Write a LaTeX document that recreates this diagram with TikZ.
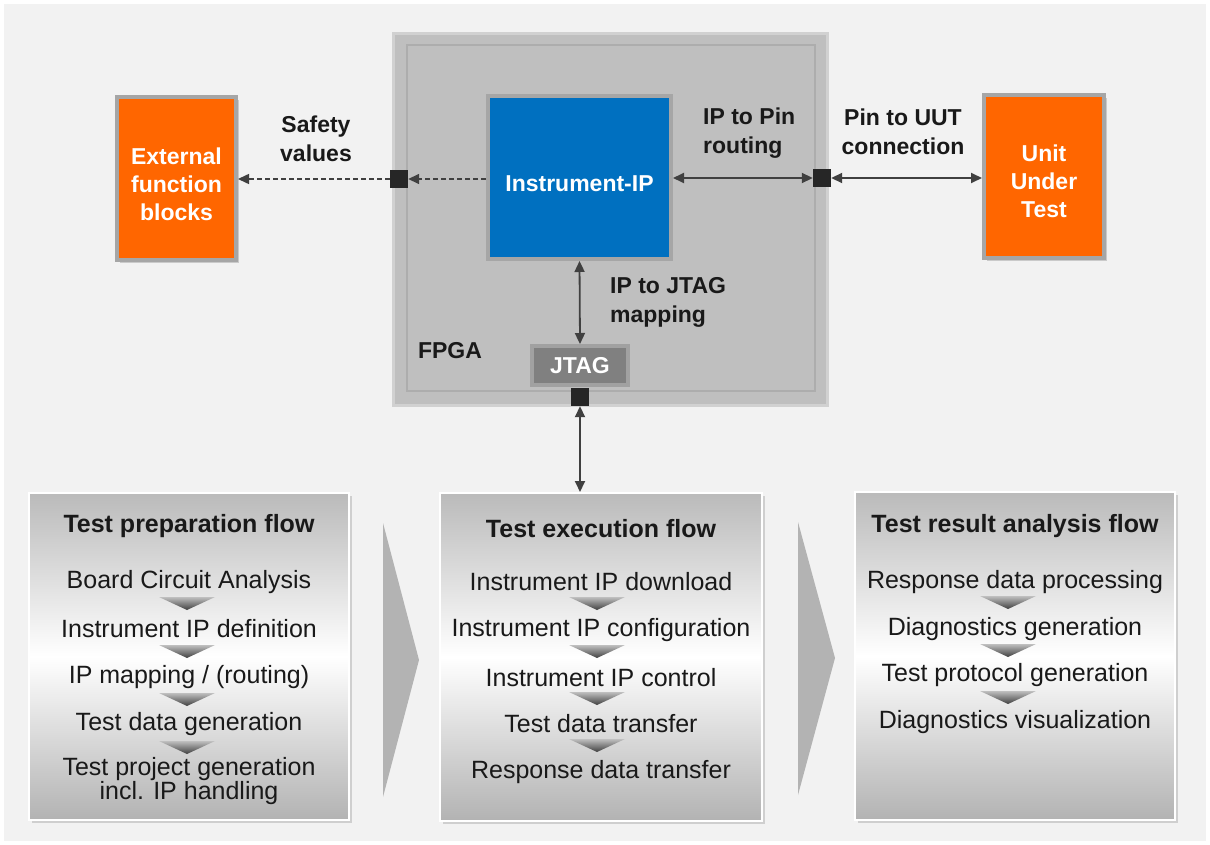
\documentclass[tikz,border=0pt]{standalone}
\usepackage{fontspec}
\setmainfont{Liberation Sans}
\usetikzlibrary{arrows.meta, positioning, shadows}

\definecolor{bggray}{RGB}{242,242,242}
\definecolor{fpgagray}{RGB}{191,191,191}
\definecolor{framegray}{RGB}{166,166,166}
\definecolor{ipblue}{RGB}{0,112,192}
\definecolor{uutorange}{RGB}{255,102,0}
\definecolor{arrowgray}{RGB}{64,64,64}
\definecolor{portblack}{RGB}{38,38,38}
\definecolor{jtaggray}{RGB}{128,128,128}
\definecolor{chevgray}{RGB}{179,179,179}

\tikzset{
  blockbox/.style={draw=framegray, line width=4pt, fill=uutorange,
    drop shadow={shadow xshift=3pt, shadow yshift=-3pt, opacity=0.35}},
  blocktext/.style={inner sep=0pt, text=white, align=center, font=\bfseries\fontsize{23}{28}\selectfont},
  lbl/.style={inner sep=0pt, text=black!90, font=\bfseries\fontsize{23}{29}\selectfont},
  port/.style={fill=portblack, minimum size=18pt, inner sep=0pt},
  link/.style={arrowgray, line width=1.8pt,
    {Triangle[length=11pt,width=10pt]}-{Triangle[length=11pt,width=10pt]}},
  dlink/.style={arrowgray, line width=1.5pt, dash pattern=on 5pt off 3pt,
    -{Triangle[length=11pt,width=10pt]}},
  flowbox/.style={draw=white, line width=2pt, top color=black!27, bottom color=black!30,
    middle color=white, minimum width=320pt, minimum height=327pt,
    drop shadow={shadow xshift=3pt, shadow yshift=-3pt, opacity=0.3}},
  flowtitle/.style={inner sep=0pt, text=black!90, font=\bfseries\fontsize{25}{28}\selectfont},
  flowitem/.style={inner sep=0pt, align=center, text=black!90, font=\fontsize{25}{24}\selectfont},
  chev/.pic={\shade[top color=black!25, bottom color=black!75] (-28,-7) -- (28,-7) -- (0,6) -- cycle;}
}

\begin{document}
\begin{tikzpicture}[x=1pt, y=-1pt]
  % Canvas
  \useasboundingbox (0,0) rectangle (1210,845);
  \fill[white] (0,0) rectangle (1210,845);
  \fill[bggray] (4,4) rectangle (1206,841);

  % FPGA with its inner frame
  \node[fill=fpgagray, draw=black!18, line width=3pt, minimum width=434pt, minimum height=372pt] (fpga) at (610.5,219.5) {};
  \draw[black!32, line width=1.2pt] (407,45) rectangle (815,391);
  \node[lbl] (fpgalbl) at (450,351) {FPGA};

  % Instrument and JTAG
  \node[draw=framegray, line width=4pt, fill=ipblue, text=white, minimum width=183pt, minimum height=163pt,
        text height=28.5pt, text depth=0pt, font=\bfseries\fontsize{23}{29}\selectfont] (instip) at (579.5,177.5) {Instrument-IP};
  \node[draw=black!37, line width=4pt, fill=jtaggray, text=white, minimum width=96pt, minimum height=39pt,
        inner sep=0pt, font=\bfseries\fontsize{23}{29}\selectfont] (jtag) at (580,365.5) {JTAG};

  % Outer blocks
  \node[blockbox, minimum width=119pt, minimum height=163pt] (extblk) at (176.5,178.5) {};
  \node[blocktext] (extlbl) at (176.5,184) {External\\function\\blocks};
  \node[blockbox, minimum width=120pt, minimum height=163pt] (uut) at (1044,176.5) {};
  \node[blocktext] (uutlbl) at (1044,181) {Unit\\Under\\Test};

  % Pins
  \node[port] (portl) at (399,179) {};
  \node[port] (portr) at (822,178) {};
  \node[port] (portj) at (580,397) {};

  % Connection labels
  \node[lbl, align=center] (safety) at (316,139) {Safety\\values};
  \node[lbl, align=left, anchor=west] (pinrout) at (703,133) {IP to Pin\\routing};
  \node[lbl, align=left, anchor=west] (jtagmap) at (610,302) {IP to JTAG\\mapping};
  \node[lbl, align=center] (uutconn) at (903,132) {Pin to UUT\\connection};

  % Flow boxes
  \node[flowbox] (prepflow) at (189,656.5) {};
  \node[flowbox, minimum width=322pt, minimum height=328pt] (execflow) at (601,657) {};
  \node[flowbox, minimum height=328pt] (resflow) at (1015,656) {};

  % Big chevrons between the flows
  \fill[chevgray] (383,523) -- (419,660) -- (383,797) -- cycle;
  \fill[chevgray] (798,522) -- (835,658) -- (798,795) -- cycle;

  % Connections
  \draw[dlink] (instip.west |- portl) -- (portl.east);
  \draw[dlink] (portl.west) -- (extblk.east |- portl);
  \draw[link] (instip.east |- portr) -- (portr.west);
  \draw[link] (portr.east) -- (uut.west |- portr);
  \draw[link] (instip.south) -- (jtag.north);
  \draw[link] (portj.south) -- (portj.south |- execflow.north);

  % Test preparation flow
  \node[flowtitle] (preptitle) at (189,526) {Test preparation flow};
  \node[flowitem] (prep1) at (189,582) {Board Circuit Analysis};
  \node[flowitem] (prep2) at (189,629) {Instrument IP definition};
  \node[flowitem] (prep3) at (189,677) {IP mapping / (routing)};
  \node[flowitem] (prep4) at (189,724) {Test data generation};
  \node[flowitem] (prep5) at (189,781) {Test project generation\\incl. IP handling};
  \pic at (187,604) {chev};
  \pic at (187,652) {chev};
  \pic at (187,700) {chev};
  \pic at (187,748) {chev};

  % Test execution flow
  \node[flowtitle] (exectitle) at (601,529) {Test execution flow};
  \node[flowitem] (exec1) at (601,582) {Instrument IP download};
  \node[flowitem] (exec2) at (601,630) {Instrument IP configuration};
  \node[flowitem] (exec3) at (601,678) {Instrument IP control};
  \node[flowitem] (exec4) at (601,724) {Test data transfer};
  \node[flowitem] (exec5) at (601,772) {Response data transfer};
  \pic at (597,604) {chev};
  \pic at (597,652) {chev};
  \pic at (597,699) {chev};
  \pic at (597,746) {chev};

  % Test result analysis flow
  \node[flowtitle] (restitle) at (1015,526) {Test result analysis flow};
  \node[flowitem] (res1) at (1015,582) {Response data processing};
  \node[flowitem] (res2) at (1015,629) {Diagnostics generation};
  \node[flowitem] (res3) at (1015,675) {Test protocol generation};
  \node[flowitem] (res4) at (1015,722) {Diagnostics visualization};
  \pic at (1008,603) {chev};
  \pic at (1008,651) {chev};
  \pic at (1008,698) {chev};
\end{tikzpicture}
\end{document}
